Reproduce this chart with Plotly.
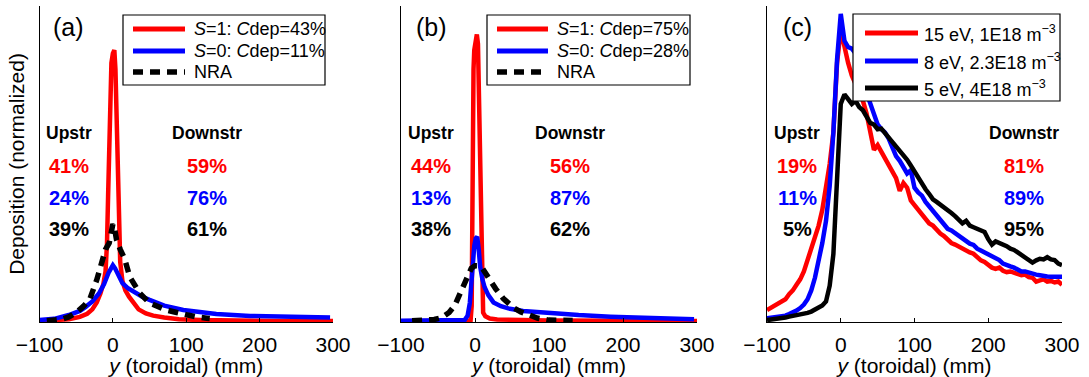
import plotly.graph_objects as go

W, H = 1089, 377
FONT = "Liberation Sans, Arial, Helvetica, sans-serif"
RED, BLUE, BLACK = "#ff0000", "#0000ff", "#000000"

# ---------------- data ----------------
# (a) toroidal position y (mm) and normalized deposition
a_s1_y = [-100, -80, -60, -45, -35, -28, -22, -17, -13, -10, -8, -6.5, -5, -3.5, -2, 0, 2, 3.5, 5,
          6.5, 8, 10, 13, 17, 22, 28, 35, 45, 55, 70, 90, 120, 160, 220, 300]
a_s1_v = [0.003, 0.005, 0.009, 0.016, 0.026, 0.040, 0.062, 0.09, 0.12, 0.16, 0.25, 0.40, 0.55, 0.72,
          0.82, 0.85, 0.86, 0.80, 0.62, 0.45, 0.30, 0.19, 0.13, 0.10, 0.08, 0.06, 0.040, 0.027,
          0.020, 0.014, 0.009, 0.006, 0.004, 0.003, 0.003]
a_s0_y = [-100, -80, -60, -45, -37, -28, -19, -12, -6, -2, 0, 3, 8, 13, 20, 31, 40, 50, 70, 96,
          120, 141, 187, 232, 260, 296]
a_s0_v = [0.006, 0.010, 0.022, 0.035, 0.048, 0.065, 0.09, 0.12, 0.155, 0.175, 0.18, 0.17, 0.145,
          0.123, 0.108, 0.092, 0.080, 0.070, 0.052, 0.038, 0.030, 0.025, 0.019, 0.017, 0.015, 0.014]
a_nra_y = [-90, -80, -70, -60, -50, -40, -31, -22, -16, -10, -5, -2, 0, 2, 5, 10, 16, 23, 30, 37,
           50, 62, 73, 87, 100, 114, 128, 132]
a_nra_v = [0.004, 0.005, 0.009, 0.016, 0.030, 0.050, 0.075, 0.133, 0.19, 0.23, 0.25, 0.30, 0.31,
           0.30, 0.26, 0.23, 0.20, 0.143, 0.115, 0.09, 0.06, 0.047, 0.038, 0.030, 0.022, 0.016,
           0.012, 0.011]

# (b)
b_s1_y = [-100, -20, -6, -4.5, -4, -3, -2, -1, 1, 2.5, 4, 5.5, 7, 8.5, 9.5, 11, 14, 20, 30, 60,
          100, 200, 300]
b_s1_v = [0.002, 0.002, 0.004, 0.05, 0.30, 0.60, 0.80, 0.86, 0.89, 0.91, 0.88, 0.70, 0.45, 0.20,
          0.06, 0.03, 0.018, 0.011, 0.008, 0.006, 0.005, 0.004, 0.003]
b_s0_y = [-100, -20, -14, -10, -7, -5, -3, -1, 1, 3, 5, 7, 10, 13, 18, 25, 35, 45, 65, 90, 111,
          140, 183, 228, 260, 296]
b_s0_v = [0.004, 0.004, 0.006, 0.02, 0.06, 0.12, 0.19, 0.24, 0.265, 0.27, 0.23, 0.175, 0.135,
          0.11, 0.085, 0.062, 0.050, 0.043, 0.035, 0.030, 0.027, 0.022, 0.017, 0.013, 0.011, 0.009]
b_nra_y = [-85, -70, -55, -45, -35, -27, -20, -15, -10, -5, 0, 5, 10, 15, 20, 28, 38, 45, 52, 62,
           75, 85, 100, 115, 132]
b_nra_v = [0.004, 0.005, 0.008, 0.014, 0.03, 0.054, 0.09, 0.12, 0.15, 0.17, 0.178, 0.178, 0.17,
           0.15, 0.13, 0.105, 0.075, 0.058, 0.045, 0.032, 0.020, 0.012, 0.006, 0.005, 0.005]

# (c) sampled every 5 mm from -100 to 300
c_y = list(range(-100, 301, 5))
c_15ev = [0.038, 0.045, 0.052, 0.060, 0.065, 0.072, 0.088, 0.100, 0.118, 0.135, 0.160, 0.195,
          0.230, 0.265, 0.305, 0.355, 0.420, 0.500, 0.600, 0.820, 0.925, 0.870, 0.820, 0.780,
          0.755, 0.730, 0.700, 0.660, 0.600, 0.545, 0.560, 0.540, 0.515, 0.495, 0.475, 0.455,
          0.415, 0.440, 0.425, 0.385, 0.370, 0.355, 0.340, 0.330, 0.312, 0.305, 0.290, 0.280,
          0.272, 0.262, 0.250, 0.245, 0.238, 0.232, 0.225, 0.220, 0.216, 0.205, 0.195, 0.190,
          0.180, 0.172, 0.168, 0.172, 0.162, 0.158, 0.160, 0.155, 0.150, 0.148, 0.150, 0.142,
          0.140, 0.128, 0.132, 0.135, 0.128, 0.130, 0.125, 0.128, 0.118]
c_8ev = [0.012, 0.013, 0.014, 0.016, 0.018, 0.020, 0.025, 0.030, 0.036, 0.044, 0.055, 0.072,
         0.100, 0.140, 0.190, 0.250, 0.320, 0.430, 0.600, 0.830, 0.975, 0.890, 0.870, 0.865,
         0.850, 0.815, 0.770, 0.725, 0.690, 0.650, 0.625, 0.610, 0.600, 0.580, 0.555, 0.525,
         0.510, 0.490, 0.470, 0.480, 0.425, 0.410, 0.400, 0.380, 0.365, 0.350, 0.335, 0.322,
         0.310, 0.295, 0.290, 0.282, 0.270, 0.262, 0.258, 0.248, 0.244, 0.232, 0.226, 0.220,
         0.212, 0.205, 0.200, 0.196, 0.185, 0.182, 0.176, 0.172, 0.166, 0.160, 0.160, 0.156,
         0.152, 0.150, 0.148, 0.145, 0.144, 0.143, 0.143, 0.143, 0.143]
c_5ev = [0.006, 0.007, 0.008, 0.010, 0.012, 0.014, 0.017, 0.019, 0.021, 0.024, 0.026, 0.029,
         0.033, 0.040, 0.046, 0.052, 0.065, 0.115, 0.215, 0.440, 0.690, 0.720, 0.705, 0.690,
         0.700, 0.680, 0.670, 0.650, 0.630, 0.625, 0.610, 0.612, 0.598, 0.585, 0.570, 0.558,
         0.544, 0.528, 0.513, 0.495, 0.475, 0.455, 0.435, 0.420, 0.405, 0.388, 0.380, 0.372,
         0.362, 0.355, 0.345, 0.335, 0.325, 0.312, 0.320, 0.305, 0.300, 0.295, 0.290, 0.285,
         0.262, 0.245, 0.255, 0.250, 0.248, 0.240, 0.232, 0.228, 0.220, 0.212, 0.205, 0.195,
         0.188, 0.195, 0.200, 0.198, 0.205, 0.198, 0.196, 0.185, 0.180]

# labels
legend_a = ["<i>S</i>=1: <i>C</i>dep=43%", "<i>S</i>=0: <i>C</i>dep=11%", "NRA"]
legend_b = ["<i>S</i>=1: <i>C</i>dep=75%", "<i>S</i>=0: <i>C</i>dep=28%", "NRA"]
legend_c = ["15 eV, 1E18 m<sup>\u22123</sup>", "8 eV, 2.3E18 m<sup>\u22123</sup>",
            "5 eV, 4E18 m<sup>\u22123</sup>"]
upstr_a = ["41%", "24%", "39%"]
downstr_a = ["59%", "76%", "61%"]
upstr_b = ["44%", "13%", "38%"]
downstr_b = ["56%", "87%", "62%"]
upstr_c = ["19%", "11%", "5%"]
downstr_c = ["81%", "89%", "95%"]
tick_vals = [-100, 0, 100, 200, 300]
tick_text = ["\u2212100", "0", "100", "200", "300"]

# ---------------- figure ----------------
def px(x):
    return x / W


def py(y):
    return 1 - y / H


LW = 4.5
DASH = "10px,7px"
fig = go.Figure()

def add_line(xs, vs, color, ax, dash=None, width=LW):
    fig.add_trace(go.Scatter(x=xs, y=vs, mode="lines", xaxis="x" + ax, yaxis="y" + ax,
                             line=dict(color=color, width=width, dash=dash),
                             showlegend=False, hoverinfo="skip"))

add_line(a_s1_y, a_s1_v, RED, "")
add_line(a_s0_y, a_s0_v, BLUE, "")
add_line(a_nra_y, a_nra_v, BLACK, "", dash=DASH, width=5.5)
add_line(b_s1_y, b_s1_v, RED, "2")
add_line(b_s0_y, b_s0_v, BLUE, "2")
add_line(b_nra_y, b_nra_v, BLACK, "2", dash=DASH, width=5.5)
add_line(c_y, c_15ev, RED, "3")
add_line(c_y, c_8ev, BLUE, "3")
add_line(c_y, c_5ev, BLACK, "3")

domains_x = [(39.5, 333), (401, 697), (767, 1062)]
ydom = [py(322), py(6)]

layout = dict(width=W, height=H, margin=dict(l=0, r=0, t=0, b=0, pad=0, autoexpand=False),
              paper_bgcolor="white", plot_bgcolor="white",
              font=dict(family=FONT, color="black", size=20), showlegend=False)

for i, (x0, x1) in enumerate(domains_x):
    sfx = "" if i == 0 else str(i + 1)
    layout["xaxis" + sfx] = dict(
        domain=[px(x0), px(x1)], range=[-100, 300], anchor="y" + sfx, automargin=False,
        tickvals=tick_vals, ticktext=tick_text, ticks="inside", ticklen=4,
        tickcolor="black", tickwidth=1, showline=True, linecolor="black", linewidth=1,
        showgrid=False, zeroline=False, tickfont=dict(size=21), ticklabelstandoff=4,
        title=dict(text="<i>y</i> (toroidal) (mm)", font=dict(size=21), standoff=4))
    layout["yaxis" + sfx] = dict(
        domain=ydom, range=[0, 1.0], anchor="x" + sfx, automargin=False,
        showticklabels=False, ticks="",
        showline=True, linecolor="black", linewidth=1, showgrid=False, zeroline=False)
layout["yaxis"]["title"] = dict(text="Deposition (normalized)", font=dict(size=21), standoff=8)

shapes, annotations = [], []

# panel letters and up/downstream fractions
panel_text = [("", "(a)", upstr_a, downstr_a, -60, 128),
              ("2", "(b)", upstr_b, downstr_b, -59, 129),
              ("3", "(c)", upstr_c, downstr_c, -59, 248)]
for sfx, letter, up, down, xu, xd in panel_text:
    ref = dict(xref="x" + sfx, yref="y" + sfx, showarrow=False, xanchor="center",
               yanchor="middle")
    annotations.append(dict(ref, x=xu, y=0.932, text=letter, font=dict(size=25)))
    annotations.append(dict(ref, x=xu, y=0.598, text="<b>Upstr</b>", font=dict(size=17.5)))
    annotations.append(dict(ref, x=xd, y=0.598, text="<b>Downstr</b>", font=dict(size=17.5)))
    for k, (u, d, col) in enumerate(zip(up, down, [RED, BLUE, BLACK])):
        yv = [0.494, 0.393, 0.293][k]
        annotations.append(dict(ref, x=xu, y=yv, text="<b>%s</b>" % u,
                                font=dict(size=20, color=col)))
        annotations.append(dict(ref, x=xd, y=yv, text="<b>%s</b>" % d,
                                font=dict(size=20, color=col)))

# boxed keys
keys = [
    dict(box=(123, 15, 325, 85), line=(133, 185), text_x=192, rows=(29, 51, 72),
         labels=legend_a, dashes=[None, None, DASH]),
    dict(box=(487, 15, 690, 85), line=(497, 548), text_x=555, rows=(29, 51, 72),
         labels=legend_b, dashes=[None, None, DASH]),
    dict(box=(853, 14, 1060, 101), line=(865, 918), text_x=922, rows=(33, 61, 88),
         labels=legend_c, dashes=[None, None, None]),
]
for kd in keys:
    bx0, by0, bx1, by1 = kd["box"]
    shapes.append(dict(type="rect", xref="paper", yref="paper", layer="above",
                       x0=px(bx0), x1=px(bx1), y0=py(by1), y1=py(by0),
                       fillcolor="white", line=dict(color="black", width=1.2)))
    for row, lab, col, dsh in zip(kd["rows"], kd["labels"], [RED, BLUE, BLACK], kd["dashes"]):
        shapes.append(dict(type="line", xref="paper", yref="paper", layer="above",
                           x0=px(kd["line"][0]), x1=px(kd["line"][1]), y0=py(row), y1=py(row),
                           line=dict(color=col, width=5.5 if dsh else 5, dash=dsh)))
        annotations.append(dict(xref="paper", yref="paper", x=px(kd["text_x"]), y=py(row),
                                xanchor="left", yanchor="middle", showarrow=False, text=lab,
                                font=dict(size=18)))

layout["shapes"] = shapes
layout["annotations"] = annotations
fig.update_layout(**layout)
fig.write_html("out.html")
